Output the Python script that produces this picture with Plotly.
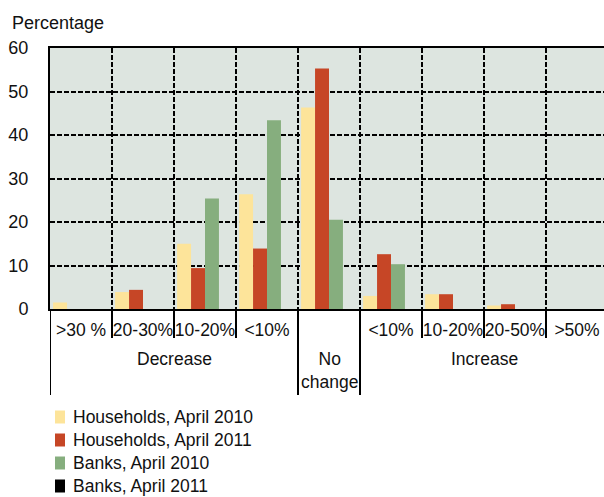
import plotly.graph_objects as go

categories = [">30 %", "20-30%", "10-20%", "<10%", "", "<10%", "10-20%", "20-50%", ">50%"]
group_labels = ["Decrease", "No<br>change", "Increase"]
series_names = ["Households, April 2010", "Households, April 2011", "Banks, April 2010", "Banks, April 2011"]
hh_2010 = [1.5, 3.9, 15.0, 26.4, 46.3, 3.0, 3.4, 0.8, 0]
hh_2011 = [0, 4.4, 9.4, 13.9, 55.3, 12.6, 3.4, 1.1, 0]
banks_2010 = [0, 0, 25.4, 43.4, 20.5, 10.3, 0, 0, 0]
banks_2011 = [0, 0, 0, 0, 0, 0, 0, 0, 0]
y_ticks = [0, 10, 20, 30, 40, 50, 60]

colors = ["#FDE49A", "#C64626", "#86AE7E", "#000000"]
FONT = "Liberation Sans, Arial, sans-serif"

L, T, W, H = 50, 48, 554, 261  # plot area in px


def px_x(px):
    return (px - L) / W


def px_y(py):
    return (T + H - py) / H


fig = go.Figure()
xs = list(range(len(categories)))
for name, vals, col in zip(series_names, [hh_2010, hh_2011, banks_2010, banks_2011], colors):
    fig.add_trace(go.Bar(x=xs, y=vals, name=name, showlegend=False,
                         marker=dict(color=col, line=dict(width=0))))

fig.update_layout(
    width=604, height=497,
    margin=dict(l=L, r=604 - L - W, t=T, b=497 - T - H, autoexpand=False),
    paper_bgcolor="white", plot_bgcolor="#DDE5E0",
    barmode="group", bargap=0.1, bargroupgap=0,
    font=dict(family=FONT, size=17.5, color="#111"),
    showlegend=False,
)

fig.update_xaxes(
    range=[-0.5, 8.5 - 4/62], automargin=False,
    tickvals=xs, ticktext=categories, ticks="", tickangle=0, tickfont=dict(size=17.5),
    showgrid=False, zeroline=False,
    showline=True, linecolor="black", linewidth=2, mirror=True,
    minor=dict(tick0=0.5, dtick=1, showgrid=True, gridcolor="black", gridwidth=2, griddash="5px,2px"),
    ticklabelstandoff=4,
)
fig.update_yaxes(
    range=[0, 60], tickvals=y_ticks, ticks="", tickfont=dict(size=18), automargin=False,
    showgrid=True, gridcolor="black", gridwidth=2, griddash="5px,2px",
    zeroline=False, showline=True, linecolor="black", linewidth=2, mirror=False,
    ticklabelstandoff=16,
)

# separators below the axis
short_b = [0.5, 1.5, 2.5, 5.5, 6.5, 7.5]
long_b = [-0.5, 3.5, 4.5, 8.5]
for b in short_b:
    fig.add_shape(type="line", xref="x", yref="paper", x0=b, x1=b, y0=0, y1=px_y(338),
                  line=dict(color="black", width=2))
for b in long_b:
    fig.add_shape(type="line", xref="x", yref="paper", x0=b, x1=b, y0=0, y1=px_y(395),
                  line=dict(color="black", width=2))

group_x = [1.5, 4.0, 6.5]
for gx, gl in zip(group_x, group_labels):
    fig.add_annotation(x=gx, xref="x", y=px_y(347), yref="paper", yanchor="top", text=gl,
                       showarrow=False, font=dict(size=17.5))

fig.add_annotation(x=px_x(10), xref="paper", xanchor="left", y=px_y(23), yref="paper",
                   yanchor="middle", text="Percentage", showarrow=False, font=dict(size=18))

# legend
leg_y = [417, 440, 463, 486]
for name, col, yy in zip(series_names, colors, leg_y):
    fig.add_shape(type="rect", xref="paper", yref="paper", x0=px_x(55), x1=px_x(65),
                  y0=px_y(yy - 6.5), y1=px_y(yy + 6.5), fillcolor=col, line=dict(width=0))
    fig.add_annotation(x=px_x(71), xref="paper", xanchor="left", y=px_y(yy), yref="paper",
                       yanchor="middle", text=name, showarrow=False, font=dict(size=17.5))

fig.write_html("out.html")
